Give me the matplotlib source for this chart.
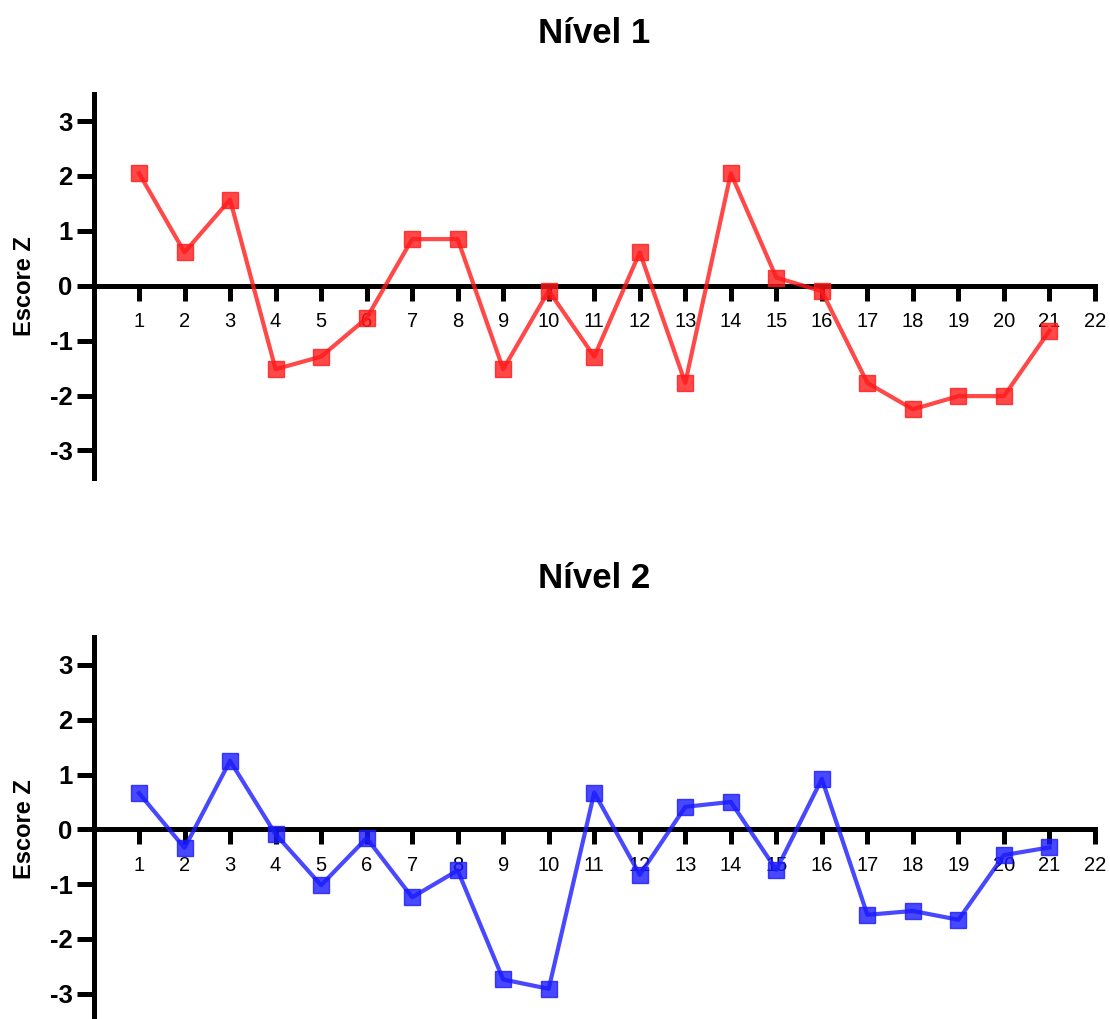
import numpy as np
import matplotlib
matplotlib.use("Agg")
import matplotlib.pyplot as plt

plt.rcParams['font.family'] = ['Liberation Sans', 'DejaVu Sans']

# avaliacoes 1..21, escore Z por nivel
avaliacao = np.arange(1, 22)
nivel1 = [2.05, 0.61, 1.57, -1.52, -1.29, -0.59, 0.85, 0.85, -1.52, -0.09, -1.29,
          0.61, -1.77, 2.05, 0.15, -0.10, -1.77, -2.25, -2.01, -2.01, -0.82]
nivel2 = [0.66, -0.34, 1.25, -0.09, -1.02, -0.16, -1.24, -0.75, -2.74, -2.91, 0.67,
          -0.83, 0.41, 0.50, -0.74, 0.92, -1.56, -1.49, -1.65, -0.47, -0.33]
xticks = list(range(1, 23))
yticks = [-3, -2, -1, 0, 1, 2, 3]

fig = plt.figure(figsize=(11.1, 10.19), dpi=100)
W, H = 1110, 1019


def painel(rect, y, cor, titulo, ytitle):
    ax = fig.add_axes(rect)
    ax.plot(avaliacao, y, color=cor, lw=3, marker='s', ms=11, alpha=0.8,
            clip_on=False, zorder=3)
    ax.set_xlim(0, 22)
    ax.set_ylim(-3.5, 3.5)
    ax.spines['top'].set_visible(False)
    ax.spines['right'].set_visible(False)
    ax.spines['bottom'].set_position(('data', 0))
    for s in ['left', 'bottom']:
        ax.spines[s].set_linewidth(3.6)
        ax.spines[s].set_capstyle('projecting')
    ax.set_xticks(xticks)
    ax.set_yticks(yticks)
    ax.set_yticklabels([str(v) for v in yticks], fontweight='bold')
    ax.tick_params(axis='x', direction='out', length=11, width=3.6,
                   labelsize=14.5, pad=8)
    ax.tick_params(axis='y', direction='out', length=12, width=3.6,
                   labelsize=18.5, pad=3)
    ax.set_ylabel('Escore Z', fontsize=17, fontweight='bold')
    ax.yaxis.set_label_coords(-0.057, 0.5)
    fig.text(594 / W, 1 - ytitle / H, titulo, ha='center', va='baseline',
             fontsize=25, fontweight='bold')
    return ax


painel([93.5 / W, 0.531, 1001.5 / W, 0.3771], nivel1, '#ff1a1a', 'Nível 1', 43)
painel([93.5 / W, -0.0021, 1001.5 / W, 0.3765], nivel2, '#1a1aff', 'Nível 2', 588)

fig.savefig('out.png', dpi=100)
